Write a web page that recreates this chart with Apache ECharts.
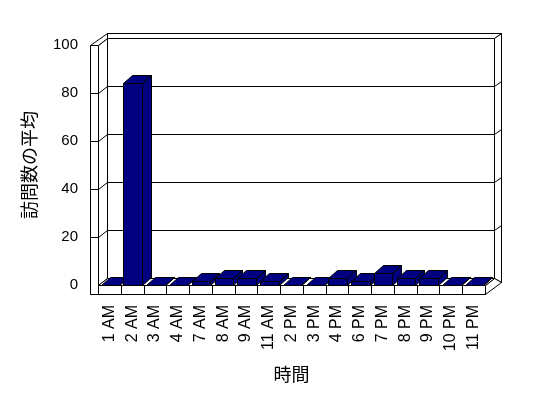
<!DOCTYPE html>
<html>
<head>
<meta charset="utf-8">
<script src="https://cdn.jsdelivr.net/npm/echarts@6/dist/echarts.min.js"></script>
<style>
html,body{margin:0;padding:0;background:#fff;}
#chart{width:548px;height:398px;}
</style>
</head>
<body>
<div id="chart"></div>
<script>
const categories = ['1 AM','2 AM','3 AM','4 AM','7 AM','8 AM','9 AM','11 AM','2 PM','3 PM','4 PM','6 PM','7 PM','8 PM','9 PM','10 PM','11 PM'];
const visits = [0, 84, 0, 0, 1.8, 2.8, 2.8, 1.8, 0, 0, 2.8, 1.8, 5.2, 2.8, 2.8, 0, 0];
const yTicks = [0, 20, 40, 60, 80, 100];
const xTitle = '時間';
const yTitle = '訪問数の平均';

const FONT = "'Liberation Sans', 'Noto Sans CJK JP', sans-serif";
const DX = 9, DY = -7;      // plot depth
const TX = 7, TY = -5;      // back wall thickness
const WW = 8.5;             // left wall thickness
const FH = 9;               // floor thickness
const BDX = 9, BDY = -8;    // bar depth
const BAR_COLOR = '#000080';

const s = v => Math.round(v) + 0.5;
const P = (x, y) => [s(x), s(y)];
const lineStyle = {stroke: '#000', lineWidth: 1, fill: null};
function poly(pts, fill) {
  return {type: 'polygon', shape: {points: pts}, style: {fill: fill, stroke: '#000', lineWidth: 1}};
}
function seg(a, b) {
  return {type: 'line', shape: {x1: a[0], y1: a[1], x2: b[0], y2: b[1]}, style: lineStyle};
}

function frameRender(params, api) {
  const band = api.size([1, 0])[0];
  const n = categories.length;
  const yMin = yTicks[0], yMax = yTicks[yTicks.length - 1];
  const X0 = api.coord([0, yMin])[0] - band / 2;
  const X1 = api.coord([n - 1, yMin])[0] + band / 2;
  const Y0 = api.coord([0, yMin])[1];
  const YT = api.coord([0, yMax])[1];
  const ch = [];
  // back wall face
  ch.push(poly([P(X0+DX, YT+DY), P(X1+DX, YT+DY), P(X1+DX, Y0+DY), P(X0+DX, Y0+DY)], '#fff'));
  // back wall top edge
  ch.push(poly([P(X0+DX, YT+DY+TY), P(X1+DX+TX, YT+DY+TY), P(X1+DX, YT+DY), P(X0+DX, YT+DY)], '#fff'));
  // back wall right edge
  ch.push(poly([P(X1+DX, YT+DY), P(X1+DX+TX, YT+DY+TY), P(X1+DX+TX, Y0+DY+TY+FH), P(X1+DX, Y0+DY)], '#fff'));
  // floor right side
  ch.push(poly([P(X1, Y0), P(X1+DX, Y0+DY), P(X1+DX+TX, Y0+DY+TY+FH), P(X1, Y0+FH)], '#fff'));
  // left wall inner face
  ch.push(poly([P(X0, YT), P(X0+DX, YT+DY), P(X0+DX, Y0+DY), P(X0, Y0)], '#fff'));
  // left wall top
  ch.push(poly([P(X0-WW, YT), P(X0, YT), P(X0+DX, YT+DY), P(X0+DX, YT+DY+TY)], '#fff'));
  // floor top
  ch.push(poly([P(X0, Y0), P(X1, Y0), P(X1+DX, Y0+DY), P(X0+DX, Y0+DY)], '#fff'));
  // left wall front face + floor front face (L shape)
  ch.push(poly([P(X0-WW, YT), P(X0, YT), P(X0, Y0), P(X1, Y0), P(X1, Y0+FH), P(X0-WW, Y0+FH)], '#fff'));
  // category dividers on floor front
  for (let i = 0; i < n; i++) {
    const xb = api.coord([i, yMin])[0] - band / 2;
    ch.push(seg(P(xb, Y0), P(xb, Y0+FH)));
  }
  // gridlines
  for (let k = 1; k < yTicks.length - 1; k++) {
    const yv = api.coord([0, yTicks[k]])[1];
    ch.push(seg(P(X0-WW, yv), P(X0, yv)));
    ch.push(seg(P(X0, yv), P(X0+DX, yv+DY)));
    ch.push(seg(P(X0+DX, yv+DY), P(X1+DX, yv+DY)));
    ch.push(seg(P(X1+DX, yv+DY), P(X1+DX+TX, yv+DY+TY)));
  }
  return {type: 'group', children: ch};
}

function barRender(params, api) {
  const band = api.size([1, 0])[0];
  const idx = api.value(0);
  const top = api.coord([idx, api.value(1)]);
  const base = api.coord([idx, yTicks[0]]);
  const xl = top[0] - band / 2 + band * 0.12;
  const xr = xl + band * 0.81;
  const yt = top[1], yb = base[1];
  const ch = [];
  // side face
  ch.push(poly([P(xr, yt), P(xr+BDX, yt+BDY), P(xr+BDX, yb+BDY), P(xr, yb)], BAR_COLOR));
  // top face
  ch.push(poly([P(xl, yt), P(xr, yt), P(xr+BDX, yt+BDY), P(xl+BDX, yt+BDY)], BAR_COLOR));
  // front face
  if (yb - yt > 0.5) {
    ch.push(poly([P(xl, yt), P(xr, yt), P(xr, yb), P(xl, yb)], BAR_COLOR));
  }
  return {type: 'group', children: ch};
}

const chart = echarts.init(document.getElementById('chart'), null, {renderer: 'canvas'});
chart.setOption({
  animation: false,
  backgroundColor: '#fff',
  grid: {left: 98, right: 63, top: 45, bottom: 113, containLabel: false},
  xAxis: {
    type: 'category',
    data: categories,
    axisLine: {show: false},
    axisTick: {show: false},
    splitLine: {show: false},
    axisLabel: {rotate: 90, margin: 20, fontSize: 16, color: '#000', fontFamily: FONT, interval: 0},
    name: xTitle,
    nameLocation: 'middle',
    nameGap: 82,
    nameTextStyle: {fontSize: 18, color: '#000', fontFamily: FONT}
  },
  yAxis: {
    type: 'value',
    min: yTicks[0],
    max: yTicks[yTicks.length - 1],
    interval: yTicks[1] - yTicks[0],
    axisLine: {show: false},
    axisTick: {show: false},
    splitLine: {show: false},
    axisLabel: {margin: 20, fontSize: 15, color: '#000', fontFamily: FONT},
    name: yTitle,
    nameLocation: 'middle',
    nameRotate: 90,
    nameGap: 58,
    nameTextStyle: {fontSize: 18, color: '#000', fontFamily: FONT}
  },
  series: [
    {
      type: 'custom',
      name: 'frame',
      renderItem: frameRender,
      data: [[0, yTicks[0]]],
      z: 1,
      silent: true
    },
    {
      type: 'custom',
      name: yTitle,
      renderItem: barRender,
      data: visits.map((v, i) => [i, v]),
      z: 2
    }
  ]
});
</script>
</body>
</html>
